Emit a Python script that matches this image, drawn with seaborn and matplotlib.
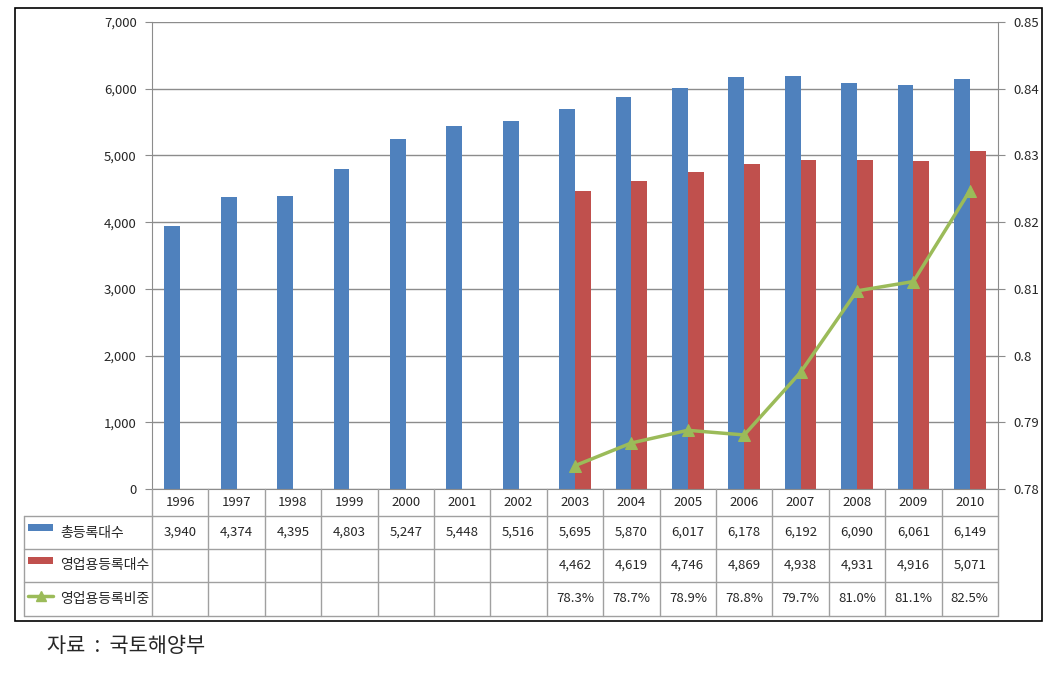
import numpy as np
import pandas as pd
import matplotlib
matplotlib.use("Agg")
import matplotlib.pyplot as plt
import seaborn as sns
from matplotlib.patches import Rectangle
from matplotlib.lines import Line2D
from matplotlib.ticker import FuncFormatter

# 데이터
years = [1996, 1997, 1998, 1999, 2000, 2001, 2002, 2003, 2004, 2005, 2006, 2007, 2008, 2009, 2010]
total = [3940, 4374, 4395, 4803, 5247, 5448, 5516, 5695, 5870, 6017, 6178, 6192, 6090, 6061, 6149]
business = [np.nan] * 7 + [4462, 4619, 4746, 4869, 4938, 4931, 4916, 5071]
ratio_years = [2003, 2004, 2005, 2006, 2007, 2008, 2009, 2010]
ratio = [0.7835, 0.7869, 0.7888, 0.7881, 0.7975, 0.8097, 0.8111, 0.8247]
ratio_labels = ["78.3%", "78.7%", "78.9%", "78.8%", "79.7%", "81.0%", "81.1%", "82.5%"]
series_names = ["총등록대수", "영업용등록대수", "영업용등록비중"]
colors = ["#4F81BD", "#C0504D", "#9BBB59"]

W, H = 1055, 674
sns.set_style("white")
plt.rcParams["font.family"] = ["Noto Sans CJK KR", "DejaVu Sans"]

df = pd.DataFrame({
    "year": [str(y) for y in years] * 2,
    "series": [series_names[0]] * len(years) + [series_names[1]] * len(years),
    "value": total + business,
})

fig = plt.figure(figsize=(W / 100, H / 100), dpi=100)
L, R, T, B = 152, 998, 22, 489
ax = fig.add_axes([L / W, 1 - B / H, (R - L) / W, (B - T) / H])

sns.barplot(data=df, x="year", y="value", hue="series", hue_order=series_names[:2],
            order=[str(y) for y in years], palette=colors[:2], width=0.56,
            saturation=1, errorbar=None, legend=False, linewidth=0, ax=ax)
ax.set_xlim(-0.5, len(years) - 0.5)
ax.set_ylim(0, 7000)
ax.set_yticks(range(0, 7001, 1000))
ax.yaxis.set_major_formatter(FuncFormatter(lambda v, p: f"{int(v):,}"))
ax.grid(axis="y", color="#8c8c8c", linewidth=1)
ax.set_axisbelow(True)
ax.set_xlabel("")
ax.set_ylabel("")
ax.tick_params(axis="x", length=0, labelbottom=False)
ax.tick_params(axis="y", length=5, color="#8c8c8c", labelsize=9.5, pad=6, left=True)
for s in ["left", "bottom"]:
    ax.spines[s].set_color("#8c8c8c")
ax.spines["top"].set_visible(False)
ax.spines["right"].set_visible(False)

axr = ax.twinx()
xpos = [years.index(y) for y in ratio_years]
sns.lineplot(x=xpos, y=ratio, ax=axr, color=colors[2], linewidth=2.5,
             marker="^", markersize=8, markeredgecolor=colors[2])
axr.set_ylim(0.78, 0.85)
axr.set_yticks(np.arange(0.78, 0.8501, 0.01))
axr.yaxis.set_major_formatter(FuncFormatter(lambda v, p: f"{round(v, 2):g}"))
axr.tick_params(axis="y", length=5, color="#8c8c8c", labelsize=9.5, pad=6, right=True)
axr.spines["right"].set_color("#8c8c8c")
for s in ["left", "top", "bottom"]:
    axr.spines[s].set_visible(False)


def fx(x):
    return x / W


def fy(y):
    return 1 - y / H


def hline(y, x0, x1):
    fig.add_artist(Line2D([fx(x0), fx(x1)], [fy(y), fy(y)], color="#a0a0a0", linewidth=1))


def vline(x, y0, y1):
    fig.add_artist(Line2D([fx(x), fx(x)], [fy(y0), fy(y1)], color="#a0a0a0", linewidth=1))


# 데이터 표
rows = [489, 516, 549, 582, 616]
labx = 24
colw = (R - L) / len(years)
for y in rows[1:]:
    hline(y, labx, R)
vline(labx, rows[1], rows[-1])
for k in range(len(years) + 1):
    vline(L + k * colw, rows[0], rows[-1])

fs = 9.5
for i, yr in enumerate(years):
    cx = L + (i + 0.5) * colw
    fig.text(fx(cx), fy((rows[0] + rows[1]) / 2), str(yr), ha="center", va="center", fontsize=fs)
    fig.text(fx(cx), fy((rows[1] + rows[2]) / 2), f"{total[i]:,}", ha="center", va="center", fontsize=fs)
    if not np.isnan(business[i]):
        fig.text(fx(cx), fy((rows[2] + rows[3]) / 2), f"{int(business[i]):,}",
                 ha="center", va="center", fontsize=fs)
for yr, lab in zip(ratio_years, ratio_labels):
    cx = L + (years.index(yr) + 0.5) * colw
    fig.text(fx(cx), fy((rows[3] + rows[4]) / 2), lab, ha="center", va="center", fontsize=fs)

# 범례 키
for j, name in enumerate(series_names):
    ymid = (rows[j + 1] + rows[j + 2]) / 2
    if j < 2:
        fig.add_artist(Rectangle((fx(28), fy(ymid - 2)), 25 / W, 7 / H,
                                 facecolor=colors[j], edgecolor="none"))
    else:
        fig.add_artist(Line2D([fx(28), fx(53)], [fy(ymid - 3), fy(ymid - 3)],
                              color=colors[2], linewidth=2.5))
        fig.add_artist(Line2D([fx(40.5)], [fy(ymid - 3)], color=colors[2],
                              marker="^", markersize=7))
    fig.text(fx(60), fy(ymid), name, ha="left", va="center", fontsize=10)

# 외곽선
fig.add_artist(Rectangle((fx(15), fy(621)), (1042 - 15) / W, (621 - 8) / H,
                         fill=False, edgecolor="black", linewidth=1.2))

fig.text(fx(47), fy(646), "자료  :  국토해양부", ha="left", va="center", fontsize=15)

plt.savefig("out.png", dpi=100)
plt.close()
